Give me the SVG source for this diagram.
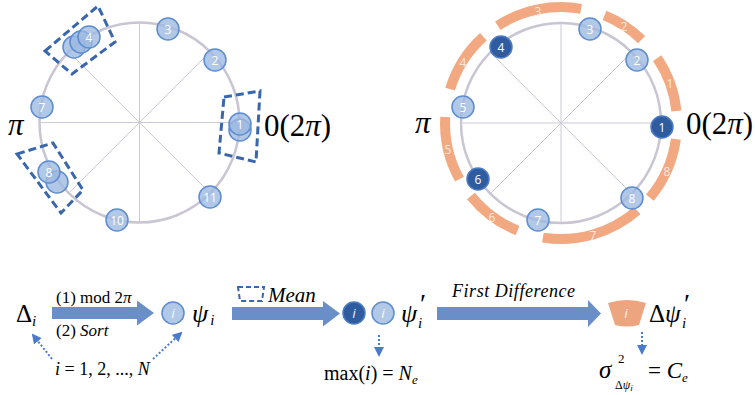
<svg xmlns="http://www.w3.org/2000/svg" width="755" height="395" viewBox="0 0 755 395">
<defs>
<style>
.ring{fill:none;stroke:#c9c5d3;stroke-width:2.5}
.spoke{stroke:#cdc9d6;stroke-width:1}
.ln{fill:#9cb8e0;fill-opacity:0.78;stroke:#5d8dd0;stroke-width:1.5}
.dk{fill:#2f5c9f;stroke:#4d7cc4;stroke-width:1.5}
.nt{font-size:12px;fill:#fff;text-anchor:middle;dominant-baseline:central}
.it{font-style:italic}
.up{font-style:normal}
.box{fill:none;stroke:#3a67ab;stroke-width:3;stroke-dasharray:8 4}
.arc{fill:none;stroke:#f2a881;stroke-width:10}
.at{font-size:12px;fill:#fbe9df;text-anchor:middle;dominant-baseline:central}
.m{fill:#000}
.big{fill:#6a8ec8}
.dot{fill:none;stroke:#4a7acb;stroke-width:2;stroke-dasharray:2 2}
</style>
<marker id="ah" viewBox="0 0 10 10" refX="8" refY="5" markerWidth="5" markerHeight="5" orient="auto">
<path d="M0 0L10 5L0 10Z" fill="#4a7acb"/>
</marker>
</defs>

<g font-family="Open Sans, Liberation Sans, sans-serif">
<!-- Left circle -->
<g id="left-circle">
<circle class="ring" cx="139.5" cy="122.5" r="100"/>
<line class="spoke" x1="39.5" y1="122.5" x2="239.5" y2="122.5"/>
<line class="spoke" x1="139.5" y1="22.5" x2="139.5" y2="222.5"/>
<line class="spoke" x1="68.8" y1="51.8" x2="210.2" y2="193.2"/>
<line class="spoke" x1="68.8" y1="193.2" x2="210.2" y2="51.8"/>
<text class="m it" font-family="Liberation Serif" x="8" y="135" font-size="31">π</text>
<text class="m" font-family="Liberation Serif" x="264" y="136" font-size="31">0(2<tspan class="it">π</tspan>)</text>
</g>
<g id="left-nodes">
<g id="L3"><circle class="ln" cx="168" cy="29" r="11"/><text class="nt" x="168" y="29">3</text></g>
<g id="L2"><circle class="ln" cx="215" cy="60" r="11"/><text class="nt" x="215" y="60">2</text></g>
<g id="L12"><circle class="ln" cx="240" cy="130" r="11"/></g>
<g id="L1"><circle class="ln" cx="240" cy="124" r="11"/><text class="nt" x="240" y="124">1</text></g>
<g id="L6"><circle class="ln" cx="74" cy="47" r="11"/></g>
<g id="L5"><circle class="ln" cx="81" cy="42" r="11"/></g>
<g id="L4"><circle class="ln" cx="89" cy="37" r="11"/><text class="nt" x="89" y="37">4</text></g>
<g id="L7"><circle class="ln" cx="42" cy="107" r="11"/><text class="nt" x="42" y="107">7</text></g>
<g id="L9"><circle class="ln" cx="57" cy="182" r="11"/></g>
<g id="L8"><circle class="ln" cx="49" cy="172" r="11"/><text class="nt" x="49" y="172">8</text></g>
<g id="L10"><circle class="ln" cx="117" cy="220" r="11"/><text class="nt" x="117" y="220">10</text></g>
<g id="L11"><circle class="ln" cx="210" cy="197" r="11"/><text class="nt" x="210" y="197">11</text></g>
<polygon class="box" points="45,51 98,6 115,42 72,74"/>
<polygon class="box" points="224,97 260,91 256,162 219,153"/>
<polygon class="box" points="17,154 53,143 83,190 61,213"/>
</g>

<!-- Right circle -->
<g id="right-circle">
<circle class="ring" cx="561" cy="123" r="100"/>
<line class="spoke" x1="461" y1="123" x2="661" y2="123"/>
<line class="spoke" x1="561" y1="23" x2="561" y2="223"/>
<line class="spoke" x1="490.3" y1="52.3" x2="631.7" y2="193.7"/>
<line class="spoke" x1="490.3" y1="193.7" x2="631.7" y2="52.3"/>
<text class="m it" font-family="Liberation Serif" x="415" y="133" font-size="31">π</text>
<text class="m" font-family="Liberation Serif" x="686" y="134" font-size="31">0(2<tspan class="it">π</tspan>)</text>
</g>
<g id="right-arcs">
<g id="A1"><path class="arc" d="M676.4 110.9A116 116 0 0 0 657.2 58.1"/><text class="at" x="670" y="83">1</text></g>
<g id="A2"><path class="arc" d="M641.6 39.6A116 116 0 0 0 604.5 15.4"/><text class="at" x="624" y="26">2</text></g>
<g id="A3"><path class="arc" d="M581.1 8.8A116 116 0 0 0 497.8 25.7"/><text class="at" x="538" y="11">3</text></g>
<g id="A4"><path class="arc" d="M483.4 36.8A116 116 0 0 0 450.1 89.1"/><text class="at" x="463" y="62">4</text></g>
<g id="A5"><path class="arc" d="M445.2 116.9A116 116 0 0 0 459.5 179.2"/><text class="at" x="448" y="149">5</text></g>
<g id="A6"><path class="arc" d="M470.9 196A116 116 0 0 0 517.5 230.6"/><text class="at" x="492" y="217">6</text></g>
<g id="A7"><path class="arc" d="M542.9 237.6A116 116 0 0 0 637.1 210.5"/><text class="at" x="593" y="235">7</text></g>
<g id="A8"><path class="arc" d="M649.9 197.6A116 116 0 0 0 675.9 139.1"/><text class="at" x="667" y="171">8</text></g>
</g>
<g id="right-nodes">
<g id="R3"><circle class="ln" cx="590" cy="29" r="11"/><text class="nt" x="590" y="29">3</text></g>
<g id="R2"><circle class="ln" cx="637" cy="60" r="11"/><text class="nt" x="637" y="60">2</text></g>
<g id="R1"><circle class="dk" cx="662" cy="127" r="11"/><text class="nt" x="662" y="127">1</text></g>
<g id="R4"><circle class="dk" cx="501" cy="47" r="11"/><text class="nt" x="501" y="47">4</text></g>
<g id="R5"><circle class="ln" cx="463" cy="107" r="11"/><text class="nt" x="463" y="107">5</text></g>
<g id="R6"><circle class="dk" cx="478" cy="179" r="11"/><text class="nt" x="478" y="179">6</text></g>
<g id="R7"><circle class="ln" cx="538" cy="220" r="11"/><text class="nt" x="538" y="220">7</text></g>
<g id="R8"><circle class="ln" cx="632" cy="198" r="11"/><text class="nt" x="632" y="198">8</text></g>
</g>

<!-- Bottom pipeline -->
<g id="connectors">
<path class="big" d="M52 307H137V300.5L154 313L137 325.5V319H52Z"/>
<path class="big" d="M232 307H323V301L340 313.5L323 326.5V320H232Z"/>
<path class="big" d="M437 307H588V300L601 313.5L588 327V320H437Z"/>
<line class="dot" x1="52" y1="359" x2="33" y2="335" marker-end="url(#ah)"/>
<line class="dot" x1="153" y1="359" x2="181" y2="333" marker-end="url(#ah)"/>
<line class="dot" x1="379" y1="335" x2="379" y2="355" marker-end="url(#ah)"/>
<line class="dot" x1="642" y1="332" x2="642" y2="353" marker-end="url(#ah)"/>
</g>
<g id="psi-nodes">
<circle class="ln" cx="173" cy="313" r="11"/><text class="nt it" x="173" y="313">i</text>
<circle class="dk" cx="354" cy="313" r="11"/><text class="nt it" x="354" y="313">i</text>
<circle class="ln" cx="383" cy="313" r="11"/><text class="nt it" x="383" y="313">i</text>
<path d="M608 303Q627 297 646 303L639 325Q627 328 615 325Z" fill="#eda57f"/>
<text class="nt it" x="626" y="313">i</text>
</g>
</g>

<g id="math-labels" font-family="Liberation Serif, serif">
<g id="delta">
<text class="m" x="16" y="322" font-size="25">Δ<tspan class="it" font-size="15" dy="4">i</tspan></text>
</g>
<g id="step1-label">
<text class="m" x="56" y="303" font-size="17">(1) mod 2<tspan class="it">π</tspan></text>
<text class="m" x="56" y="336" font-size="17">(2)  <tspan class="it">Sort</tspan></text>
</g>
<g id="psi">
<text class="m it" x="192" y="322" font-size="26">ψ<tspan font-size="15" dx="2" dy="3">i</tspan></text>
</g>
<g id="index-label">
<text class="m" x="55" y="375" font-size="18"><tspan class="it">i</tspan> = 1, 2, ..., <tspan class="it">N</tspan></text>
</g>
<g id="mean-label">
<path d="M238 287H264L262 301H240Z" fill="none" stroke="#3a67ab" stroke-width="2" stroke-dasharray="5 3"/>
<text class="m it" x="268" y="302" font-size="21">Mean</text>
</g>
<g id="psi-prime">
<text class="m it" x="401" y="322" font-size="26">ψ<tspan class="up" x="420" y="313" font-size="28">′</tspan><tspan x="418" y="328" font-size="15">i</tspan></text>
</g>
<g id="ne-label">
<text class="m" x="324" y="380" font-size="20">max(<tspan class="it">i</tspan>) = <tspan class="it">N</tspan><tspan class="it" font-size="13" dy="4">e</tspan></text>
</g>
<g id="fd-label">
<text class="m it" x="452" y="297" font-size="18" textLength="123">First Difference</text>
</g>
<g id="dpsi">
<text class="m" x="649" y="322" font-size="25">Δ<tspan class="it">ψ</tspan><tspan x="684" y="313" font-size="28">′</tspan><tspan class="it" x="682" y="328" font-size="15">i</tspan></text>
</g>
<g id="ce-label">
<text class="m it" x="599" y="378" font-size="25">σ</text>
<text class="m" x="618" y="363" font-size="13">2</text>
<text class="m" x="615" y="389" font-size="12">Δ<tspan class="it">ψ</tspan><tspan class="it" font-size="9" dy="2">i</tspan></text>
<text class="m" x="648" y="378" font-size="23">= <tspan class="it">C</tspan><tspan class="it" font-size="13" dy="4">e</tspan></text>
</g>
</g>
</svg>
